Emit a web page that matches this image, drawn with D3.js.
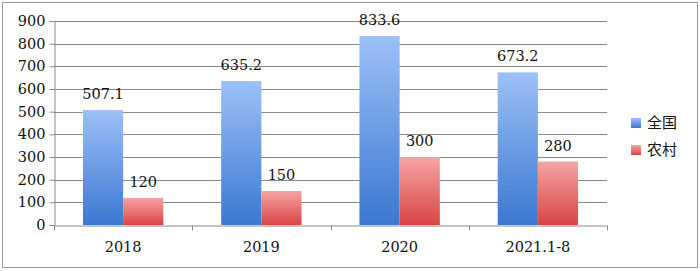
<!DOCTYPE html>
<html>
<head>
<meta charset="utf-8">
<script src="https://cdn.jsdelivr.net/npm/d3@7"></script>
<style>
  body { margin: 0; background: #fff; }
  svg { display: block; }
  text { font-family: "DejaVu Serif", serif; fill: #111; }
</style>
</head>
<body>
<svg id="chart"></svg>
<script>
const categories = ['2018', '2019', '2020', '2021.1-8'];
const seriesNames = ['全国', '农村'];
const national = [507.1, 635.2, 833.6, 673.2];
const rural = [120, 150, 300, 280];
const yTicks = [0, 100, 200, 300, 400, 500, 600, 700, 800, 900];

const w = 700, h = 271;
const svg = d3.select('#chart').attr('width', w).attr('height', h);

// outer frame
svg.append('rect')
    .attr('x', 2.5).attr('y', 2.5)
    .attr('width', w - 5).attr('height', h - 6)
    .attr('fill', 'none').attr('stroke', '#9a9a9a');

const plotLeft = 54, plotRight = 607, plotTop = 21, plotBottom = 225;

const x = d3.scaleBand().domain(categories).range([plotLeft, plotRight]).paddingInner(0).paddingOuter(0);
const x1 = d3.scaleBand().domain(seriesNames).range([0, x.bandwidth()]).paddingOuter(0.72).paddingInner(0);
const y = d3.scaleLinear().domain([0, 900]).range([plotBottom, plotTop]);

// gradients
const defs = svg.append('defs');
const grads = [
    {id: 'gBlue', c0: '#9cc0f7', c1: '#3a78d2'},
    {id: 'gRed', c0: '#f7a4a4', c1: '#d84444'}
];
grads.forEach(g => {
    const lg = defs.append('linearGradient').attr('id', g.id)
        .attr('x1', 0).attr('y1', 0).attr('x2', 0).attr('y2', 1);
    lg.append('stop').attr('offset', '0%').attr('stop-color', g.c0);
    lg.append('stop').attr('offset', '100%').attr('stop-color', g.c1);
});

// gridlines
svg.append('g').selectAll('line')
    .data(yTicks.filter(d => d > 0))
    .join('line')
    .attr('x1', plotLeft).attr('x2', plotRight)
    .attr('y1', d => Math.round(y(d)) + 0.5).attr('y2', d => Math.round(y(d)) + 0.5)
    .attr('stroke', '#8a8a8a');

// y axis
const yAxis = svg.append('g')
    .attr('transform', `translate(${plotLeft + 0.5},0)`)
    .call(d3.axisLeft(y).tickValues(yTicks).tickSize(5).tickPadding(4));
yAxis.selectAll('path, line').attr('stroke', '#8a8a8a');
yAxis.selectAll('text').style('font-size', '14.5px').attr('font-family', 'DejaVu Serif').attr('fill', '#111');

// bars
const series = [
    {name: seriesNames[0], values: national, fill: 'url(#gBlue)'},
    {name: seriesNames[1], values: rural, fill: 'url(#gRed)'}
];
const barData = [];
series.forEach(s => {
    categories.forEach((c, i) => barData.push({cat: c, name: s.name, value: s.values[i], fill: s.fill}));
});

svg.append('g').selectAll('rect')
    .data(barData)
    .join('rect')
    .attr('x', d => x(d.cat) + x1(d.name))
    .attr('width', x1.bandwidth())
    .attr('y', d => y(d.value))
    .attr('height', d => y(0) - y(d.value))
    .attr('fill', d => d.fill);

// x axis
const xAxis = svg.append('g')
    .attr('transform', `translate(0,${Math.round(plotBottom) + 0.5})`)
    .call(d3.axisBottom(x).tickSize(0).tickPadding(16));
xAxis.select('path').attr('stroke', '#8a8a8a');
xAxis.selectAll('text').style('font-size', '14.5px').attr('font-family', 'DejaVu Serif').attr('fill', '#111');
xAxis.selectAll('.boundary')
    .data(categories.concat(['end']))
    .join('line')
    .attr('class', 'boundary')
    .attr('x1', (d, i) => Math.round(plotLeft + i * x.bandwidth()) + 0.5)
    .attr('x2', (d, i) => Math.round(plotLeft + i * x.bandwidth()) + 0.5)
    .attr('y1', 0).attr('y2', 5)
    .attr('stroke', '#8a8a8a');

// value labels
svg.append('g').selectAll('text')
    .data(barData)
    .join('text')
    .attr('x', d => x(d.cat) + x1(d.name) + x1.bandwidth() / 2)
    .attr('y', d => y(d.value) - 11)
    .attr('text-anchor', 'middle')
    .style('font-size', '14.5px')
    .text(d => d.value);

// legend
const legend = svg.append('g').attr('transform', 'translate(631,118)');
series.forEach((s, i) => {
    const g = legend.append('g').attr('transform', `translate(0,${i * 27})`);
    g.append('rect').attr('width', 10).attr('height', 10).attr('fill', s.fill);
    g.append('text').attr('x', 16).attr('y', 5).attr('dy', '0.36em')
        .style('font-size', '15px')
        .style('font-family', '"Noto Sans CJK SC", sans-serif')
        .text(s.name);
});
</script>
</body>
</html>
